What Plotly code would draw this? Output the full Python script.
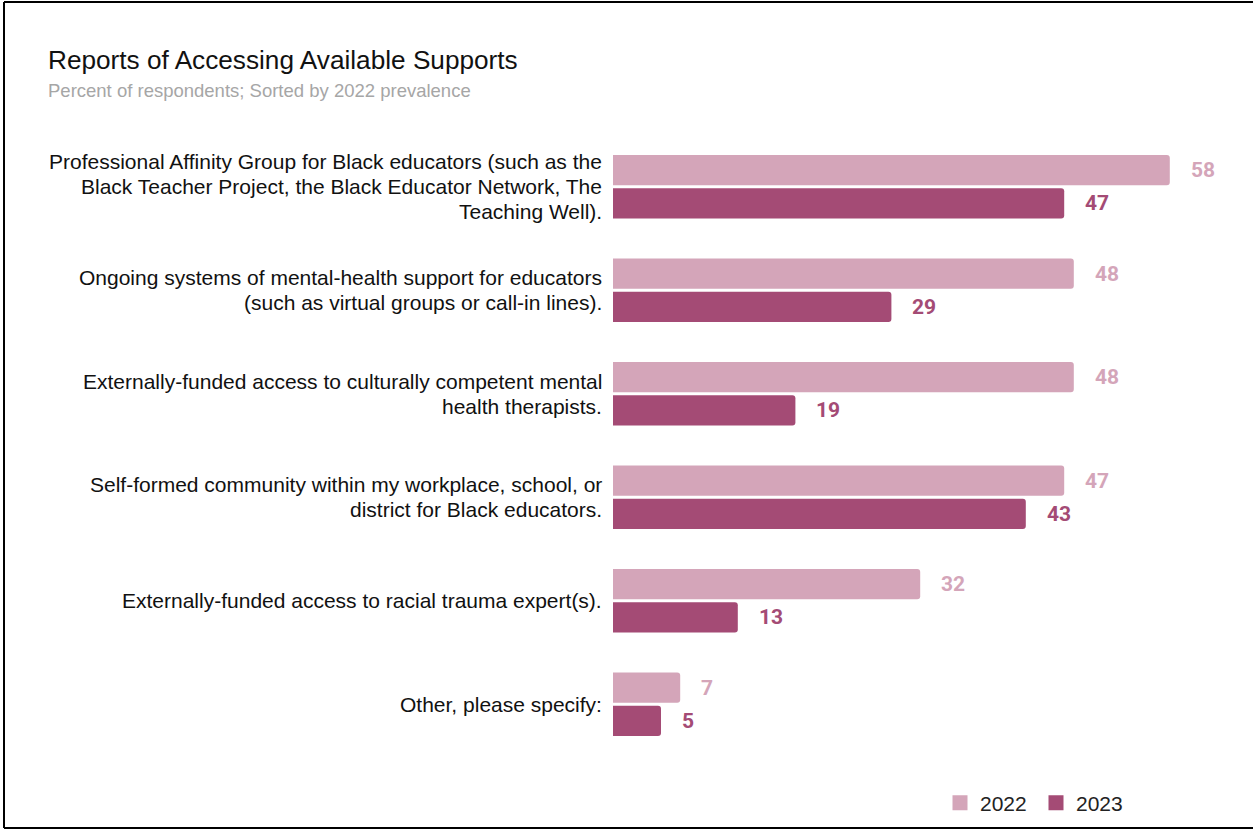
import plotly.graph_objects as go

# Survey categories (top to bottom) and percent of respondents per year
categories = [
    "Professional Affinity Group for Black educators (such as the<br>Black Teacher Project, the Black Educator Network, The<br>Teaching Well).",
    "Ongoing systems of mental-health support for educators<br>(such as virtual groups or call-in lines).",
    "Externally-funded access to culturally competent mental<br>health therapists.",
    "Self-formed community within my workplace, school, or<br>district for Black educators.",
    "Externally-funded access to racial trauma expert(s).",
    "Other, please specify:",
]
values_2022 = [58, 48, 48, 47, 32, 7]
values_2023 = [47, 29, 19, 43, 13, 5]
years = ["2022", "2023"]

COLOR_2022 = "#d4a5b9"
COLOR_2023 = "#a44b75"
FONT = "Liberation Sans, Arial, sans-serif"

W, H = 1253, 829
ML, MR, MT, MB = 613, 3, 135, 73
PW, PH = W - ML - MR, H - MT - MB
X_MAX = PW / 9.6
LINE_H = 25


def px_x(p):
    return (p - ML) / PW


def px_y(q):
    return (H - MB - q) / PH


fig = go.Figure()
for name, vals, color in ((years[0], values_2022, COLOR_2022), (years[1], values_2023, COLOR_2023)):
    fig.add_trace(go.Bar(
        name=name, y=list(range(len(categories))), x=vals, orientation="h",
        marker=dict(color=color, cornerradius=3, line=dict(width=0)),
        hovertext=[c.replace("<br>", " ") for c in categories],
        hoverinfo="text+x", showlegend=False,
    ))

# Legend entries as square swatches
for name, color in ((years[0], COLOR_2022), (years[1], COLOR_2023)):
    fig.add_trace(go.Scatter(
        name=name, x=[None], y=[None], mode="markers",
        marker=dict(symbol="square", size=15, color=color),
        showlegend=True,
    ))

# Category labels, right-aligned to the left of the bars
for i, cat in enumerate(categories):
    lines = cat.split("<br>")
    m = len(lines)
    for k, line in enumerate(lines):
        fig.add_annotation(
            x=0, y=i, xref="paper", yref="y",
            text=line, showarrow=False,
            xanchor="right", yanchor="middle", align="right",
            xshift=-9, yshift=((m - 1) / 2 - k) * LINE_H,
            font=dict(family=FONT, size=21, color="#111111"),
        )

# Value labels just past the end of each bar
for i in range(len(categories)):
    for vals, color, off in ((values_2022, COLOR_2022, -0.16), (values_2023, COLOR_2023, 0.16)):
        fig.add_annotation(
            x=vals[i], y=i + off, xref="x", yref="y",
            text=f"<b>{vals[i]}</b>", showarrow=False,
            xanchor="left", yanchor="middle", xshift=19,
            font=dict(family="Roboto", size=21, color=color),
        )

# Title and subtitle
fig.add_annotation(
    x=px_x(46), y=px_y(60), xref="paper", yref="paper",
    text="Reports of Accessing Available Supports", showarrow=False,
    xanchor="left", yanchor="middle",
    font=dict(family=FONT, size=26.2, color="#111111"),
)
fig.add_annotation(
    x=px_x(46), y=px_y(91), xref="paper", yref="paper",
    text="Percent of respondents; Sorted by 2022 prevalence", showarrow=False,
    xanchor="left", yanchor="middle",
    font=dict(family=FONT, size=18.5, color="#a6a6a6"),
)

# Frame around the figure
fig.add_shape(type="line", xref="paper", yref="paper",
              x0=px_x(4), x1=px_x(W + 5), y0=px_y(2), y1=px_y(2),
              line=dict(color="black", width=2))
fig.add_shape(type="line", xref="paper", yref="paper",
              x0=px_x(4), x1=px_x(4), y0=px_y(2), y1=px_y(828),
              line=dict(color="black", width=2))
fig.add_shape(type="line", xref="paper", yref="paper",
              x0=px_x(4), x1=px_x(W + 5), y0=px_y(828), y1=px_y(828),
              line=dict(color="black", width=2))

fig.update_layout(
    width=W, height=H,
    margin=dict(l=ML, r=MR, t=MT, b=MB),
    paper_bgcolor="white", plot_bgcolor="white",
    barmode="group", bargap=0.36, bargroupgap=0.09,
    showlegend=True,
    legend=dict(
        orientation="h", x=px_x(940), y=px_y(803), xanchor="left", yanchor="middle",
        font=dict(family=FONT, size=21, color="#222222"),
        itemwidth=30, traceorder="normal", bgcolor="rgba(0,0,0,0)",
        entrywidth=51, entrywidthmode="pixels",
    ),
    xaxis=dict(range=[0, X_MAX], visible=False, fixedrange=True),
    yaxis=dict(
        range=[len(categories) - 0.5, -0.5], showgrid=False, zeroline=False,
        showline=False, showticklabels=False, ticks="", fixedrange=True,
    ),
    font=dict(family=FONT),
)

fig.write_html("out.html")
